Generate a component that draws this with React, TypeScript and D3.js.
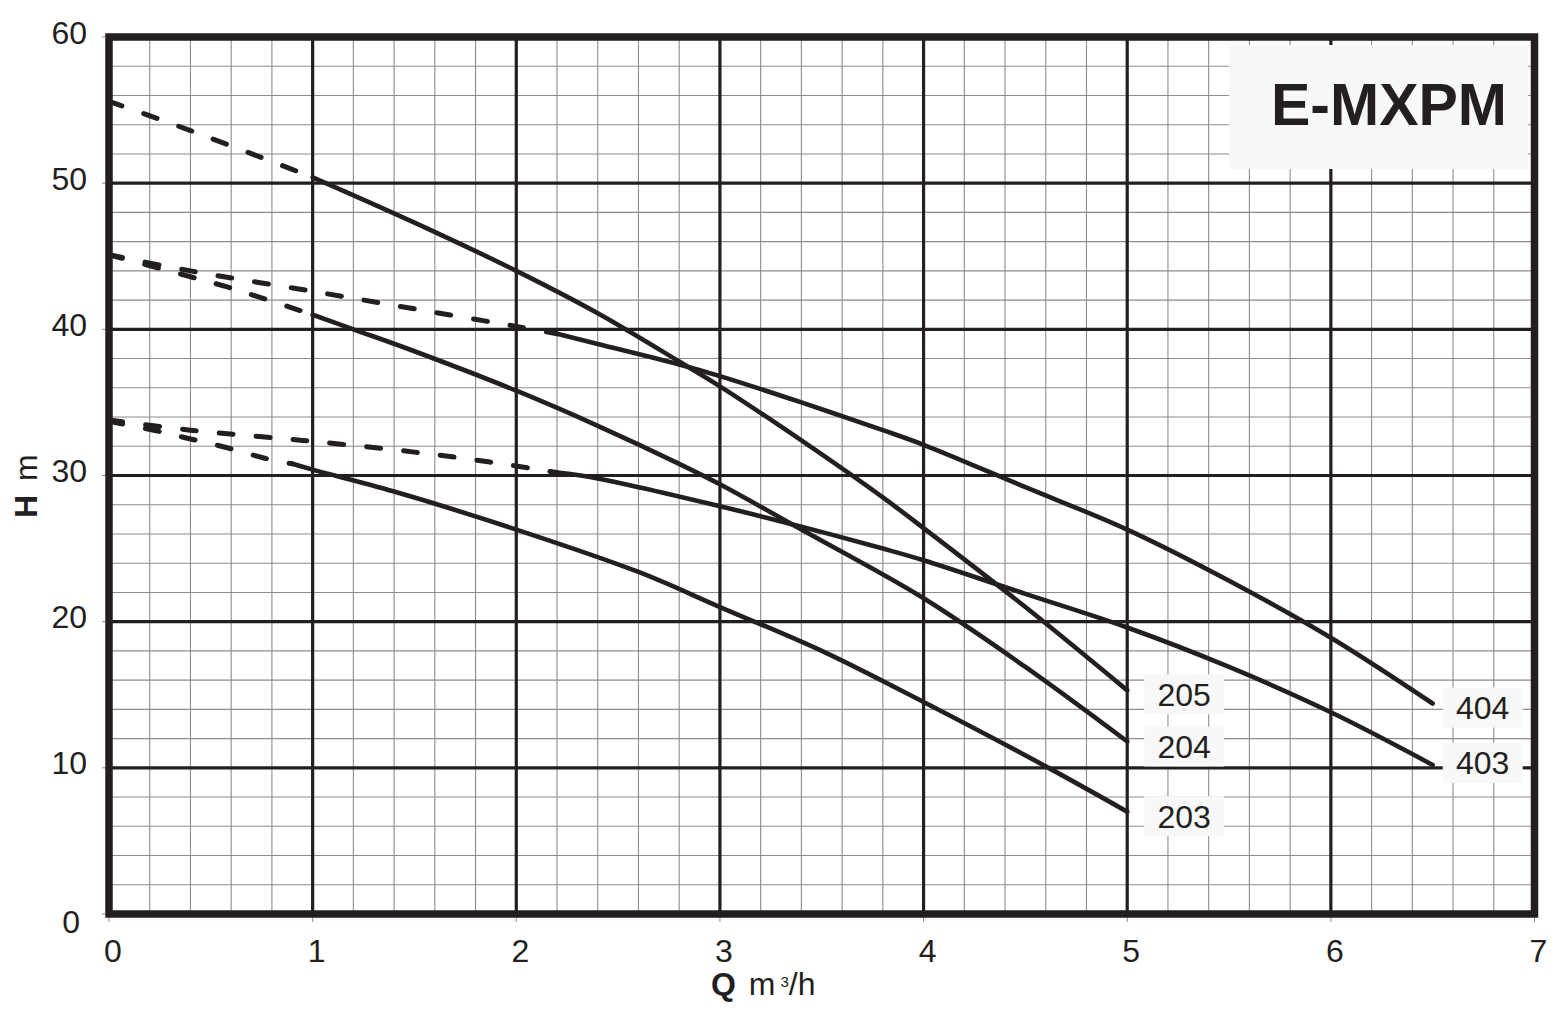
import React from "react";
import * as d3 from "d3";

// ---- data ----
const Q_TICKS = [0, 1, 2, 3, 4, 5, 6, 7];
const H_TICKS = [0, 10, 20, 30, 40, 50, 60];
const TITLE = "E-MXPM";

const s205Dashed: [number, number][] = [[0, 55.6], [0.4, 53.6], [1, 50.4]];
const s205Solid: [number, number][] = [[1, 50.4], [1.5, 47.3], [2, 44.0], [2.4, 41.1], [2.8, 37.8], [3, 36.1], [3.4, 32.4], [3.8, 28.5], [4, 26.4], [4.5, 21.0], [5, 15.3]];

const s204Dashed: [number, number][] = [[0, 45.1], [0.4, 43.6], [0.58, 42.9], [0.76, 42.1], [1, 41.0]];
const s204Solid: [number, number][] = [[1, 41.0], [1.2, 40.0], [1.5, 38.5], [2, 35.8], [2.4, 33.4], [2.8, 30.8], [3, 29.4], [3.4, 26.3], [4, 21.6], [4.5, 16.9], [5, 11.8]];

const s203Dashed: [number, number][] = [[0, 33.7], [0.22, 33.1], [0.4, 32.5], [0.58, 31.9], [0.76, 31.2], [0.9, 30.8]];
const s203Solid: [number, number][] = [[0.9, 30.8], [1, 30.4], [1.4, 28.9], [2, 26.3], [2.6, 23.4], [3, 21.0], [3.5, 18.0], [4, 14.5], [4.6, 10.1], [5, 7.0]];

const s404Dashed: [number, number][] = [[0, 45.1], [0.4, 44.0], [1, 42.6], [1.5, 41.4], [2, 40.2], [2.2, 39.7]];
const s404Solid: [number, number][] = [[2.2, 39.7], [2.4, 39.0], [2.8, 37.6], [3, 36.8], [3.4, 35.0], [3.8, 33.1], [4, 32.1], [4.5, 29.2], [5, 26.3], [5.5, 22.8], [6, 18.9], [6.5, 14.4]];

const s403Dashed: [number, number][] = [[0, 33.8], [0.4, 33.1], [0.95, 32.4], [1.5, 31.6], [1.88, 30.9], [2.2, 30.2]];
const s403Solid: [number, number][] = [[2.2, 30.2], [2.4, 29.8], [3, 27.9], [3.4, 26.5], [3.8, 25.0], [4, 24.2], [4.5, 21.9], [5, 19.6], [5.5, 16.9], [6, 13.8], [6.5, 10.2]];

const SERIES = [
  { name: "205", dashed: s205Dashed, solid: s205Solid },
  { name: "204", dashed: s204Dashed, solid: s204Solid },
  { name: "203", dashed: s203Dashed, solid: s203Solid },
  { name: "404", dashed: s404Dashed, solid: s404Solid },
  { name: "403", dashed: s403Dashed, solid: s403Solid },
];

// ---- layout (not data) ----
const W = 1564;
const HGT = 1010;
const LEFT = 109;
const RIGHT = 1534.5;
const TOP = 37;
const BOTTOM = 914;
const INK = "#231f20";
const FONT = "'Liberation Sans', Arial, Helvetica, sans-serif";
const LABEL_DY: Record<string, number> = { "205": 4, "204": 5, "203": 4.5, "404": 4, "403": -2 };
const LABEL_DX: Record<string, number> = { "205": 17, "204": 17, "203": 17, "404": 10, "403": 10 };

export default function App() {
  const x = d3.scaleLinear().domain([0, 7]).range([LEFT, RIGHT]);
  const y = d3.scaleLinear().domain([0, 60]).range([BOTTOM, TOP]);
  const line = d3
    .line<[number, number]>()
    .x((d) => x(d[0]))
    .y((d) => y(d[1]))
    .curve(d3.curveCatmullRom.alpha(0.5));

  const minorQ = d3.range(1, 35).map((i) => i * 0.2).filter((v) => Math.abs(v - Math.round(v)) > 1e-6);
  const minorH = d3.range(1, 30).map((i) => i * 2).filter((v) => v % 10 !== 0);

  return (
    <svg width={W} height={HGT} style={{ position: "absolute", left: 0, top: 0, background: "#fff" }} fontFamily={FONT}>
      <rect x={0} y={0} width={W} height={HGT} fill="#fff" />
      {/* minor grid */}
      {minorQ.map((q) => (
        <line key={"mq" + q} x1={x(q)} x2={x(q)} y1={TOP} y2={BOTTOM} stroke="#8c8c8c" strokeWidth={1.1} />
      ))}
      {minorH.map((h) => (
        <line key={"mh" + h} x1={LEFT} x2={RIGHT} y1={y(h)} y2={y(h)} stroke="#8c8c8c" strokeWidth={1.1} />
      ))}
      {/* major grid */}
      {Q_TICKS.map((q) => (
        <line key={"Mq" + q} x1={x(q)} x2={x(q)} y1={TOP} y2={BOTTOM} stroke={INK} strokeWidth={3.2} />
      ))}
      {H_TICKS.map((h) => (
        <line key={"Mh" + h} x1={LEFT} x2={RIGHT} y1={y(h)} y2={y(h)} stroke={INK} strokeWidth={3.2} />
      ))}
      {/* outer ticks */}
      {Q_TICKS.map((q) => (
        <line key={"tq" + q} x1={x(q)} x2={x(q)} y1={BOTTOM} y2={BOTTOM + 8} stroke="#8c8c8c" strokeWidth={1} />
      ))}
      {H_TICKS.map((h) => (
        <line key={"th" + h} x1={LEFT - 7} x2={LEFT} y1={y(h)} y2={y(h)} stroke="#8c8c8c" strokeWidth={1} />
      ))}
      {/* curves */}
      {SERIES.map((s) => (
        <g key={s.name}>
          <path d={line(s.dashed) || ""} fill="none" stroke={INK} strokeWidth={5} strokeLinecap="round" strokeDasharray="14 23" />
          <path d={line(s.solid) || ""} fill="none" stroke={INK} strokeWidth={4.6} strokeLinecap="round" strokeLinejoin="round" />
        </g>
      ))}
      {/* frame */}
      <rect x={LEFT} y={TOP} width={RIGHT - LEFT} height={BOTTOM - TOP} fill="none" stroke={INK} strokeWidth={7.5} />
      {/* curve labels */}
      {SERIES.map((s) => {
        const end = s.solid[s.solid.length - 1];
        const bx = x(end[0]) + LABEL_DX[s.name];
        const cy = y(end[1]) + LABEL_DY[s.name];
        return (
          <g key={"l" + s.name}>
            <rect x={bx} y={cy - 20} width={80} height={40} fill="#f8f8f8" />
            <text x={bx + 40} y={cy + 11.5} textAnchor="middle" fontSize={32} fill={INK}>
              {s.name}
            </text>
          </g>
        );
      })}
      {/* title box */}
      <rect x={1229} y={45} width={299} height={124} fill="#f8f8f8" />
      <text x={1389} y={125} textAnchor="middle" fontSize={59} fontWeight="bold" fill={INK}>
        {TITLE}
      </text>
      {/* y tick labels */}
      {H_TICKS.map((h, i) => (
        <text
          key={"yl" + h}
          x={i === 0 ? 80 : 87}
          y={y(h) + (i === 0 ? 19.3 : 6.5)}
          textAnchor="end"
          fontSize={32}
          fill={INK}
        >
          {h}
        </text>
      ))}
      {/* x tick labels */}
      {Q_TICKS.map((q) => (
        <text key={"xl" + q} x={x(q) + 4} y={962} textAnchor="middle" fontSize={32} fill={INK}>
          {q}
        </text>
      ))}
      {/* axis titles */}
      <text x={711} y={995} fontSize={32} fill={INK}>
        <tspan fontWeight="bold">Q</tspan>
        <tspan dx={4}> m</tspan>
        <tspan fontSize={15} dx={5} dy={-8}>3</tspan>
        <tspan dy={8}>/h</tspan>
      </text>
      <text transform="translate(37,518) rotate(-90)" fontSize={32} fill={INK}>
        <tspan fontWeight="bold">H</tspan>
        <tspan dx={14}>m</tspan>
      </text>
    </svg>
  );
}
